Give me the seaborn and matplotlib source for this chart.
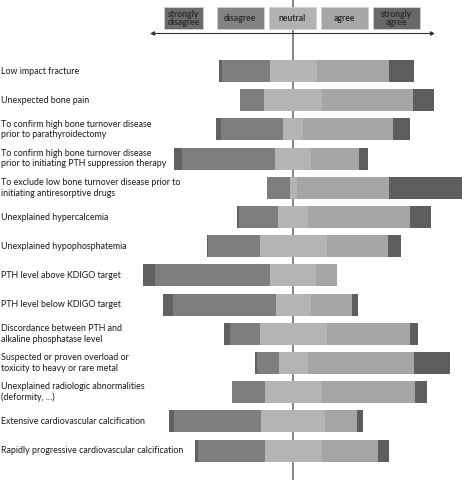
import matplotlib
matplotlib.use("Agg")
import matplotlib.pyplot as plt
from matplotlib.patches import Rectangle
import pandas as pd
import seaborn as sns

labels = [
    "Low impact fracture",
    "Unexpected bone pain",
    "To confirm high bone turnover disease\nprior to parathyroidectomy",
    "To confirm high bone turnover disease\nprior to initiating PTH suppression therapy",
    "To exclude low bone turnover disease prior to\ninitiating antiresorptive drugs",
    "Unexplained hypercalcemia",
    "Unexplained hypophosphatemia",
    "PTH level above KDIGO target",
    "PTH level below KDIGO target",
    "Discordance between PTH and\nalkaline phosphatase level",
    "Suspected or proven overload or\ntoxicity to heavy or rare metal",
    "Unexplained radiologic abnormalities\n(deformity, ...)",
    "Extensive cardiovascular calcification",
    "Rapidly progressive cardiovascular calcification",
]

# percentages of answers
strongly_disagree = [1.7, 0, 2.6, 4.5, 0, 1.4, 0.5, 6.3, 4.8, 2.9, 1.3, 0, 2.9, 1.4]
disagree = [24.3, 12.5, 32.0, 47.8, 11.8, 20.0, 26.9, 59.1, 53.1, 15.4, 11.0, 16.8, 44.6, 34.6]
neutral = [24.3, 29.8, 10.3, 18.5, 3.4, 15.4, 34.3, 23.7, 17.8, 34.3, 15.1, 29.2, 33.1, 29.2]
agree = [37.0, 46.8, 46.0, 24.7, 47.6, 52.3, 31.7, 10.6, 21.4, 42.7, 54.5, 48.0, 16.3, 28.8]
strongly_agree = [12.9, 10.8, 9.1, 4.5, 37.2, 10.8, 6.4, 0, 3.1, 4.4, 18.4, 6.0, 2.9, 5.8]

legend_names = ["strongly\ndisagree", "disagree", "neutral", "agree", "strongly\nagree"]
colors = ["#616161", "#7e7e7e", "#b4b4b4", "#a5a5a5", "#5e5e5e"]
legend_colors = ["#6b6b6b", "#838383", "#b2b2b2", "#a7a7a7", "#686868"]

df = pd.DataFrame({"label": labels, "sd": strongly_disagree, "d": disagree,
                   "n": neutral, "a": agree, "sa": strongly_agree})
half = df["n"] / 2

# each layer starts at 0, drawn from outermost to innermost
layers = [
    (-(df["sd"] + df["d"] + half), colors[0]),
    (-(df["d"] + half), colors[1]),
    (-half, colors[2]),
    (half + df["a"] + df["sa"], colors[4]),
    (half + df["a"], colors[3]),
    (half, colors[2]),
]

W, H = 462, 480
fig = plt.figure(figsize=(W / 100, H / 100), dpi=100)
ax = fig.add_axes([0, 0, 1, 1])

center_px = 293.3
px_per_pct = 1.945
row0_px = 71
row_step = 29.2

ax.axvline(0, color="#707070", lw=1.2, zorder=0)

for vals, col in layers:
    sns.barplot(x=vals, y=df["label"], orient="h", color=col, saturation=1,
                width=0.76, linewidth=0, ax=ax, zorder=2)

ax.set_xlim(-center_px / px_per_pct, (W - center_px) / px_per_pct)
ax.set_ylim((H - row0_px) / row_step, -row0_px / row_step)
ax.axis("off")

for i, lab in enumerate(labels):
    ax.text(0.003, i, lab, transform=ax.get_yaxis_transform(), ha="left",
            va="center", fontsize=6.4, family=["Lato", "DejaVu Sans"],
            color="#1a1a1a", linespacing=1.2)

# legend boxes on top
boxes = [(164.3, 202.7), (216.7, 264), (269, 316), (321, 368.3), (372.7, 420)]
for (x0, x1), name, col in zip(boxes, legend_names, legend_colors):
    fig.patches.append(Rectangle((x0 / W, 1 - 29.3 / H), (x1 - x0) / W, 22 / H,
                                 transform=fig.transFigure, facecolor=col,
                                 edgecolor="#d0d0d0", lw=0.6, zorder=3))
    fig.text((x0 + x1) / 2 / W, 1 - 18.3 / H, name, ha="center", va="center",
             fontsize=6.2, fontweight="bold", color="#2e2e2e",
             family=["Lato", "DejaVu Sans"], linespacing=0.85, zorder=4)

ax.annotate("", xy=(150 / W, 1 - 33.5 / H), xytext=(435 / W, 1 - 33.5 / H),
            xycoords="figure fraction", textcoords="figure fraction",
            arrowprops=dict(arrowstyle="<|-|>", color="#333333", lw=0.8,
                            mutation_scale=6, shrinkA=0, shrinkB=0))

fig.savefig("out.png", dpi=100, facecolor="white")
